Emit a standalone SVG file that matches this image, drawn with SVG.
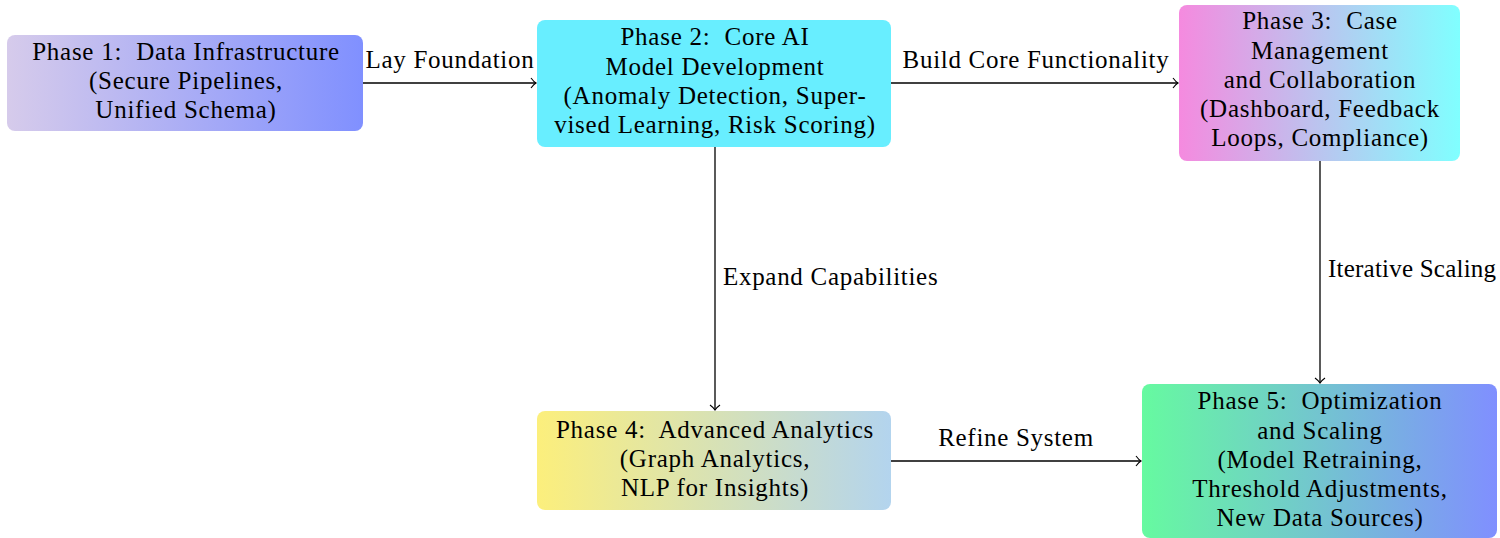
<svg xmlns="http://www.w3.org/2000/svg" width="1500" height="538" viewBox="0 0 1500 538">
  <style>
    .box { stroke: none; }
    .t { font-family: "Liberation Serif", "Times New Roman", serif; font-size: 25px; letter-spacing: 0.75px; fill: #000; text-anchor: middle; white-space: pre; }
    .lbl { font-family: "Liberation Serif", "Times New Roman", serif; font-size: 25px; letter-spacing: 0.7px; fill: #000; }
    .edge { stroke: #000; stroke-width: 1.3; fill: none; marker-end: url(#tip); }
  </style>
  <defs>
    <marker id="tip" viewBox="-6 -6 8 12" markerWidth="8" markerHeight="12" refX="0" refY="0" orient="auto" markerUnits="userSpaceOnUse">
      <path d="M -5 -5 Q -2 -1 0 0 Q -2 1 -5 5" fill="none" stroke="#000" stroke-width="1.1"/>
    </marker>
    <linearGradient id="g1" x1="0" y1="0" x2="1" y2="0">
      <stop offset="0" stop-color="#D6CBEB"/>
      <stop offset="1" stop-color="#8090FF"/>
    </linearGradient>
    <linearGradient id="g3" x1="0" y1="0" x2="1" y2="0">
      <stop offset="0" stop-color="#F58ADF"/>
      <stop offset="1" stop-color="#80FFFF"/>
    </linearGradient>
    <linearGradient id="g4" x1="0" y1="0" x2="1" y2="0">
      <stop offset="0" stop-color="#FCEF7C"/>
      <stop offset="1" stop-color="#B3D4EE"/>
    </linearGradient>
    <linearGradient id="g5" x1="0" y1="0" x2="1" y2="0">
      <stop offset="0" stop-color="#66FAA0"/>
      <stop offset="1" stop-color="#808FFF"/>
    </linearGradient>
  </defs>

  <!-- connectors -->
  <g id="connectors">
    <path class="edge" d="M 363 83 H 536"/>
    <text class="lbl" x="450" y="68" text-anchor="middle">Lay Foundation</text>
    <path class="edge" d="M 891 83 H 1178"/>
    <text class="lbl" x="1036" y="68" text-anchor="middle">Build Core Functionality</text>
    <path class="edge" d="M 715 147 V 410"/>
    <text class="lbl" x="723" y="285">Expand Capabilities</text>
    <path class="edge" d="M 1320 161 V 383"/>
    <text class="lbl" x="1328" y="277" style="letter-spacing:0" textLength="168">Iterative Scaling</text>
    <path class="edge" d="M 891 461 H 1141"/>
    <text class="lbl" x="1016" y="446" text-anchor="middle">Refine System</text>
  </g>

  <!-- Phase 1 -->
  <g id="phase1">
    <rect class="box" x="7" y="35" width="356" height="96" rx="8" fill="url(#g1)"/>
    <text class="t" x="186" y="60" xml:space="preserve">Phase 1:  Data Infrastructure</text>
    <text class="t" x="186" y="89">(Secure Pipelines,</text>
    <text class="t" x="186" y="118">Unified Schema)</text>
  </g>

  <!-- Phase 2 -->
  <g id="phase2">
    <rect class="box" x="537" y="20" width="354" height="127" rx="8" fill="#68EEFF"/>
    <text class="t" x="715" y="45" xml:space="preserve">Phase 2:  Core AI</text>
    <text class="t" x="715" y="75">Model Development</text>
    <text class="t" x="715" y="104">(Anomaly Detection, Super-</text>
    <text class="t" x="715" y="133">vised Learning, Risk Scoring)</text>
  </g>

  <!-- Phase 3 -->
  <g id="phase3">
    <rect class="box" x="1179" y="5" width="281" height="156" rx="8" fill="url(#g3)"/>
    <text class="t" x="1320" y="29" xml:space="preserve">Phase 3:  Case</text>
    <text class="t" x="1320" y="59">Management</text>
    <text class="t" x="1320" y="88">and Collaboration</text>
    <text class="t" x="1320" y="117">(Dashboard, Feedback</text>
    <text class="t" x="1320" y="146">Loops, Compliance)</text>
  </g>

  <!-- Phase 4 -->
  <g id="phase4">
    <rect class="box" x="537" y="411" width="354" height="99" rx="8" fill="url(#g4)"/>
    <text class="t" x="715" y="438" xml:space="preserve">Phase 4:  Advanced Analytics</text>
    <text class="t" x="715" y="467">(Graph Analytics,</text>
    <text class="t" x="715" y="496">NLP for Insights)</text>
  </g>

  <!-- Phase 5 -->
  <g id="phase5">
    <rect class="box" x="1142" y="384" width="355" height="154" rx="8" fill="url(#g5)"/>
    <text class="t" x="1320" y="409" xml:space="preserve">Phase 5:  Optimization</text>
    <text class="t" x="1320" y="439">and Scaling</text>
    <text class="t" x="1320" y="468">(Model Retraining,</text>
    <text class="t" x="1320" y="497">Threshold Adjustments,</text>
    <text class="t" x="1320" y="526">New Data Sources)</text>
  </g>
</svg>
